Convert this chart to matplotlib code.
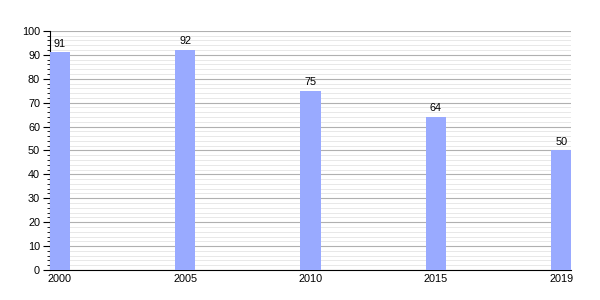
import matplotlib
matplotlib.use("Agg")
import matplotlib.pyplot as plt
from matplotlib.ticker import MultipleLocator

years = ["2000", "2005", "2010", "2015", "2019"]
values = [91, 92, 75, 64, 50]

plt.rcParams['font.family'] = ['Liberation Sans', 'DejaVu Sans']

fig = plt.figure(figsize=(6, 3), dpi=100)
ax = fig.add_axes([0.083, 0.1, 0.869, 0.797])

w = 0.16
pos = list(range(len(years)))
bars = ax.bar(pos, values, width=w, align='edge', color='#99aaff', zorder=3)

for b, v in zip(bars, values):
    ax.text(b.get_x() + b.get_width() / 2, v + 1.5, str(v),
            ha='center', va='bottom', fontsize=7.8, zorder=4)

ax.set_xlim(0, len(years) - 1 + w)
ax.set_ylim(0, 100)
ax.set_xticks([p + w / 2 for p in pos])
ax.set_xticklabels(years, fontsize=7.8)
ax.tick_params(axis='x', length=0, pad=3)

ax.yaxis.set_major_locator(MultipleLocator(10))
ax.yaxis.set_minor_locator(MultipleLocator(2))
ax.tick_params(axis='y', which='major', length=5, width=0.8, labelsize=7.8, pad=2)
ax.tick_params(axis='y', which='minor', length=2.5, width=0.6)
ax.grid(axis='y', which='major', color='#b0b0b0', linewidth=0.8, zorder=0)
ax.grid(axis='y', which='minor', color='#e4e4e4', linewidth=0.6, zorder=0)

for s in ['top', 'right']:
    ax.spines[s].set_visible(False)
ax.spines['left'].set_linewidth(0.8)
ax.spines['bottom'].set_linewidth(0.8)

fig.savefig('out.png', dpi=100)
